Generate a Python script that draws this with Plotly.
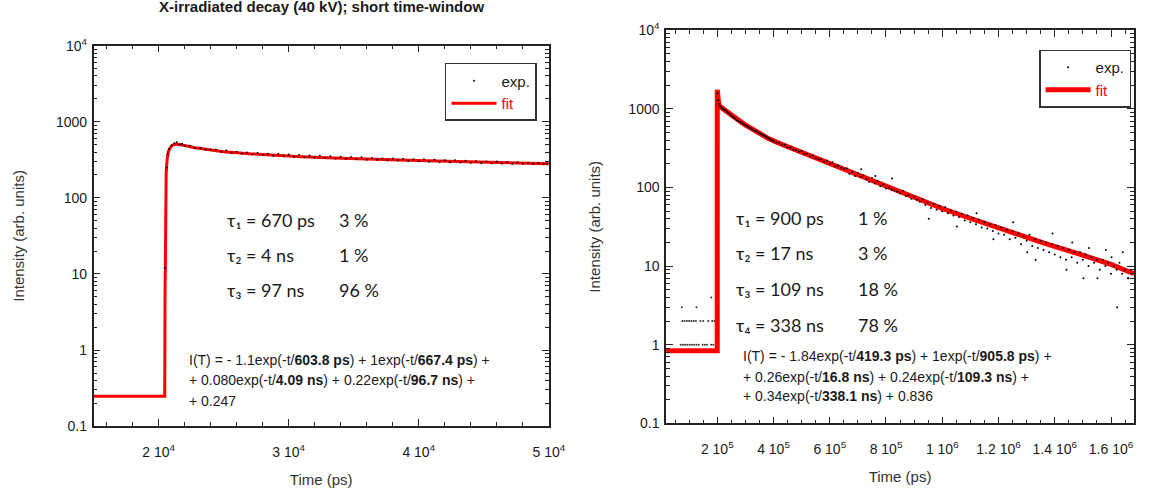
import plotly.graph_objects as go

W, H = 1155, 493


def px(x):
    return x / W


def py(y):
    return 1 - y / H


# ---------------- short time-window (left) ----------------
fit_t_left = [15000, 20470, 20490, 20580, 20660, 20760, 20900, 21100, 21350, 21600,
              22000, 22700, 23700, 25000, 27000, 29000, 31000, 33500, 36000, 38500,
              41500, 44500, 47500, 48900, 49000, 50000]
fit_i_left = [0.247, 0.247, 4.2, 210, 330, 410, 460, 495, 510, 505,
              487, 458, 430, 405, 380, 362, 348, 334, 322, 314,
              306, 297, 289, 285, 280, 280]

exp_t_left = [20520, 20600, 20700, 20800, 21000, 21200, 21400, 21600, 21800, 22000,
              22400, 22800, 23200, 23600, 24000, 24400, 24800, 25200, 25600, 26000,
              26400, 26800, 27200, 27600, 28000, 28400, 28800, 29200, 29600, 30000,
              30400, 30800, 31200, 31600, 32000, 32400, 32800, 33200, 33600, 34000,
              34400, 34800, 35200, 35600, 36000, 36400, 36800, 37200, 37600, 38000,
              38400, 38800, 39200, 39600, 40000, 40400, 40800, 41200, 41600, 42000,
              42400, 42800, 43200, 43600, 44000, 44400, 44800, 45200, 45600, 46000,
              46400, 46800, 47200, 47600, 48000, 48400, 48800, 49200, 49600, 49900]
exp_i_left = [12, 250, 380, 438, 492, 521, 540, 502, 515, 481,
              483, 449, 456, 433, 428, 431, 405, 418, 392, 404,
              383, 396, 372, 388, 366, 381, 359, 376, 352, 371,
              347, 366, 343, 360, 339, 357, 335, 351, 330, 348,
              326, 344, 322, 342, 318, 334, 316, 330, 312, 329,
              309, 325, 306, 321, 302, 322, 299, 317, 297, 313,
              294, 311, 291, 308, 290, 304, 288, 300, 285, 301,
              283, 296, 281, 294, 280, 290, 278, 289, 276, 284]

# ---------------- long time-window (right) ----------------
fit_t_right = [18000, 200000, 200100, 202000, 205000, 210000, 224500, 245000, 265500,
               295000, 323600, 350000, 382100, 420000, 463700, 500000, 545700, 600000,
               700000, 800000, 900000, 1000000, 1104000, 1233000, 1362000, 1491000,
               1600000, 1682000]
fit_i_right = [0.836, 0.836, 1750, 1400, 1180, 1070, 980, 850, 737,
               640, 556, 490, 419, 365, 316, 280, 245, 205,
               145, 103, 74, 54, 40, 27.5, 19.6, 14.1,
               10.5, 8.0]

# counts recorded before the excitation pulse
pre_t_right = [70000, 78000, 86000, 94000, 102000, 110000, 118000, 126000, 134000, 148000,
               156000, 164000, 178000, 186000,
               76000, 84000, 92000, 100000, 108000, 116000, 124000, 140000, 150000, 168000,
               182000, 190000,
               74000, 126000, 179000]
pre_i_right = [1, 1, 1, 1, 1, 1, 1, 1, 1, 1,
               1, 1, 1, 1,
               2, 2, 2, 2, 2, 2, 2, 2, 2, 2,
               2, 2,
               3, 3, 4]

exp_t_right = [201000, 203000, 206000, 210000, 215000, 220000, 225000, 230000, 235000, 240000,
               245000, 250000, 255000, 260000, 265000, 270000, 275000, 280000, 285000, 290000,
               295000, 300000, 305000, 310000, 315000, 320000, 325000, 330000, 335000, 340000,
               345000, 350000, 355000, 360000, 365000, 370000, 375000, 380000, 385000, 390000,
               395000, 400000, 410000, 420000, 430000, 440000, 450000, 460000, 470000, 480000,
               490000, 500000, 510000, 520000, 530000, 540000, 550000, 560000, 570000, 580000,
               590000, 600000, 610000, 620000, 630000, 640000, 650000, 660000, 670000, 680000,
               690000, 700000, 710000, 720000, 730000, 740000, 750000, 760000, 770000, 780000,
               790000, 800000, 810000, 820000, 830000, 840000, 850000, 860000, 870000, 880000,
               890000, 900000, 910000, 920000, 930000, 940000, 950000, 960000, 970000, 980000,
               990000, 1000000, 1010000, 1020000, 1030000, 1040000, 1050000, 1060000, 1070000, 1080000,
               1090000, 1100000, 1110000, 1120000, 1130000, 1140000, 1150000, 1160000, 1170000, 1180000,
               1190000, 1200000, 1210000, 1220000, 1230000, 1240000, 1250000, 1260000, 1270000, 1280000,
               1290000, 1300000, 1310000, 1320000, 1330000, 1340000, 1350000, 1360000, 1370000, 1380000,
               1390000, 1400000, 1410000, 1420000, 1430000, 1440000, 1450000, 1460000, 1470000, 1480000,
               1490000, 1500000, 1510000, 1520000, 1530000, 1540000, 1550000, 1560000, 1570000, 1580000,
               1590000, 1600000, 1610000, 1620000, 1630000, 1640000, 1650000, 1660000, 1670000,
               712000, 762000, 822000, 952000, 1052000, 1122000, 1182000, 1252000, 1302000, 1332000,
               1392000, 1442000, 1462000, 1502000, 1522000, 1552000, 1582000, 1602000, 1622000, 1642000,
               1662000]
exp_i_right = [1580, 1290, 1150, 1080, 1030, 1005, 975, 950, 915, 880,
               860, 820, 795, 770, 745, 715, 700, 680, 664, 645,
               640, 620, 605, 590, 572, 566, 548, 540, 522, 515,
               500, 492, 480, 470, 462, 448, 440, 425, 418, 405,
               400, 388, 372, 368, 350, 346, 325, 322, 305, 300,
               284, 291, 268, 266, 250, 256, 236, 229, 228, 212,
               220, 200, 210, 186, 190, 178, 170, 176, 150, 158,
               140, 152, 136, 143, 128, 118, 132, 112, 121, 104,
               110, 97, 100, 94, 92, 88, 84, 90, 78, 80,
               72, 76, 70, 66, 71, 60, 64, 55, 61, 52,
               58, 50, 56, 47, 51, 44, 49, 42, 46, 38,
               44, 36, 41, 34, 39, 31, 36, 30, 34, 28,
               33, 26, 31, 25, 29, 22, 28, 23, 26, 19,
               24, 21, 25, 18, 22, 17, 21, 16, 20, 15,
               19, 14, 18, 13, 17, 12, 16, 13, 15, 11,
               15, 12, 14, 10, 13, 11, 12, 9, 12, 10,
               11, 8, 10, 9, 11, 8, 9, 7, 9,
               170, 140, 130, 40, 32, 47, 22, 36, 15, 12,
               26, 9, 20, 7, 17, 7, 16, 13, 3, 15,
               7]

RED = "#ff0000"
INK = "#1a1a1a"
TEXT_FONT = "Liberation Sans, Arial, sans-serif"
TAU_FONT = "Lato, Open Sans, sans-serif"
AXIS_FONT = dict(family=TEXT_FONT, size=14, color=INK)

fig = go.Figure()

fig.add_trace(go.Scatter(x=fit_t_left, y=fit_i_left, mode="lines", name="<span style='color:#ff0000'>fit</span>",
                         line=dict(color=RED, width=3), xaxis="x", yaxis="y", legend="legend", legendrank=2))
fig.add_trace(go.Scatter(x=exp_t_left, y=exp_i_left, mode="markers", name="exp.",
                         marker=dict(color="black", size=2), xaxis="x", yaxis="y", legend="legend", legendrank=1))

fig.add_trace(go.Scatter(x=pre_t_right, y=pre_i_right, mode="markers", showlegend=False,
                         marker=dict(color="#333333", size=2), xaxis="x2", yaxis="y2"))
fig.add_trace(go.Scatter(x=fit_t_right, y=fit_i_right, mode="lines", name="<span style='color:#ff0000'>fit</span>",
                         line=dict(color=RED, width=5), xaxis="x2", yaxis="y2", legend="legend2", legendrank=2))
fig.add_trace(go.Scatter(x=exp_t_right, y=exp_i_right, mode="markers", name="exp.",
                         marker=dict(color="black", size=2), xaxis="x2", yaxis="y2", legend="legend2", legendrank=1))

y_vals = [0.1, 1, 10, 100, 1000, 10000]
y_text = ["0.1", "1", "10", "100", "1000", "10<sup>4</sup>"]

x_left_vals = [20000, 30000, 40000, 50000]
x_left_text = ["2 10<sup>4</sup>", "3 10<sup>4</sup>", "4 10<sup>4</sup>", "5 10<sup>4</sup>"]
x_right_vals = [200000, 400000, 600000, 800000, 1000000, 1200000, 1400000, 1600000]
x_right_text = ["2 10<sup>5</sup>", "4 10<sup>5</sup>", "6 10<sup>5</sup>", "8 10<sup>5</sup>",
                "1 10<sup>6</sup>", "1.2 10<sup>6</sup>", "1.4 10<sup>6</sup>", "1.6 10<sup>6</sup>"]

common_axis = dict(showline=True, linecolor="#222222", linewidth=1.5, mirror="allticks",
                   ticks="inside", ticklen=7, tickwidth=1, tickcolor="#222222",
                   showgrid=False, zeroline=False, tickfont=AXIS_FONT,
                   title_font=dict(family=TEXT_FONT, size=15, color="#333333"))

fig.update_layout(
    width=W, height=H, margin=dict(l=0, r=0, t=0, b=0),
    paper_bgcolor="white", plot_bgcolor="white",
    xaxis=dict(domain=[px(95), px(557)], range=[15000, 50000], anchor="y",
               tickmode="array", tickvals=x_left_vals, ticktext=x_left_text, ticklabelstandoff=12,
               minor=dict(ticks="inside", ticklen=4, tickmode="linear", tick0=0, dtick=2000, tickcolor="#222222"),
               title=dict(text="Time (ps)", standoff=16), **common_axis),
    yaxis=dict(domain=[py(432), py(37)], type="log", range=[-1, 4], anchor="x",
               tickmode="array", tickvals=y_vals, ticktext=y_text, ticklabelstandoff=2,
               minor=dict(ticks="inside", ticklen=4, dtick="D1", tickcolor="#222222"),
               title=dict(text="Intensity (arb. units)", standoff=28), **common_axis),
    xaxis2=dict(domain=[px(676), px(1151)], range=[18000, 1682000], anchor="y2",
                tickmode="array", tickvals=x_right_vals, ticktext=x_right_text, ticklabelstandoff=12,
                minor=dict(ticks="inside", ticklen=4, tickmode="linear", tick0=0, dtick=50000, tickcolor="#222222"),
                title=dict(text="Time (ps)", standoff=16), **common_axis),
    yaxis2=dict(domain=[py(429), py(21)], type="log", range=[-1, 4], anchor="x2",
                tickmode="array", tickvals=y_vals, ticktext=y_text, ticklabelstandoff=2,
                minor=dict(ticks="inside", ticklen=4, dtick="D1", tickcolor="#222222"),
                title=dict(text="Intensity (arb. units)", standoff=24), **common_axis),
    legend=dict(x=px(545), y=py(55), xanchor="right", yanchor="top", bgcolor="white",
                bordercolor="#333333", borderwidth=1.5, itemwidth=45,
                font=dict(family=TEXT_FONT, size=15, color=INK), traceorder="normal"),
    legend2=dict(x=px(1148), y=py(41), xanchor="right", yanchor="top", bgcolor="white",
                 bordercolor="#333333", borderwidth=1.5, itemwidth=45,
                 font=dict(family=TEXT_FONT, size=15, color=INK), traceorder="normal"),
    showlegend=True,
)

annotations = [
    dict(text="<b>X-irradiated decay (40 kV); short time-window</b>", x=px(326), y=py(7),
         xanchor="center", yanchor="bottom", font=dict(family=TEXT_FONT, size=15, color=INK)),
]


def note(text, x, y, font=TEXT_FONT, size=15):
    return dict(text=text, x=px(x), y=py(y), xanchor="left", yanchor="middle",
                font=dict(family=font, size=size, color=INK))


tau_left = [("τ₁ = 670 ps", "3 %"), ("τ₂ = 4 ns", "1 %"), ("τ₃ = 97 ns", "96 %")]
for (lab, pct), y in zip(tau_left, [218, 254, 291]):
    annotations.append(note(lab, 228, y, TAU_FONT, 18))
    annotations.append(note(pct, 342, y, TAU_FONT, 18))

tau_right = [("τ₁ = 900 ps", "1 %"), ("τ₂ = 17 ns", "3 %"), ("τ₃ = 109 ns", "18 %"), ("τ₄ = 338 ns", "78 %")]
for (lab, pct), y in zip(tau_right, [216, 252, 290, 327]):
    annotations.append(note(lab, 745, y, TAU_FONT, 18))
    annotations.append(note(pct, 869, y, TAU_FONT, 18))

eq_left = ["I(T) = - 1.1exp(-t/<b>603.8 ps</b>) + 1exp(-t/<b>667.4 ps</b>) +",
           "+ 0.080exp(-t/<b>4.09 ns</b>) + 0.22exp(-t/<b>96.7 ns</b>) +",
           "+ 0.247"]
for line, y in zip(eq_left, [363, 384, 406]):
    annotations.append(note(line, 190, y, TEXT_FONT, 14))

eq_right = ["I(T) = - 1.84exp(-t/<b>419.3 ps</b>) + 1exp(-t/<b>905.8 ps</b>) +",
            "+ 0.26exp(-t/<b>16.8 ns</b>) + 0.24exp(-t/<b>109.3 ns</b>) +",
            "+ 0.34exp(-t/<b>338.1 ns</b>) + 0.836"]
for line, y in zip(eq_right, [359, 381, 401]):
    annotations.append(note(line, 752, y, TEXT_FONT, 14))

for a in annotations:
    a.update(xref="paper", yref="paper", showarrow=False)
fig.update_layout(annotations=annotations)

fig.write_html("out.html")
